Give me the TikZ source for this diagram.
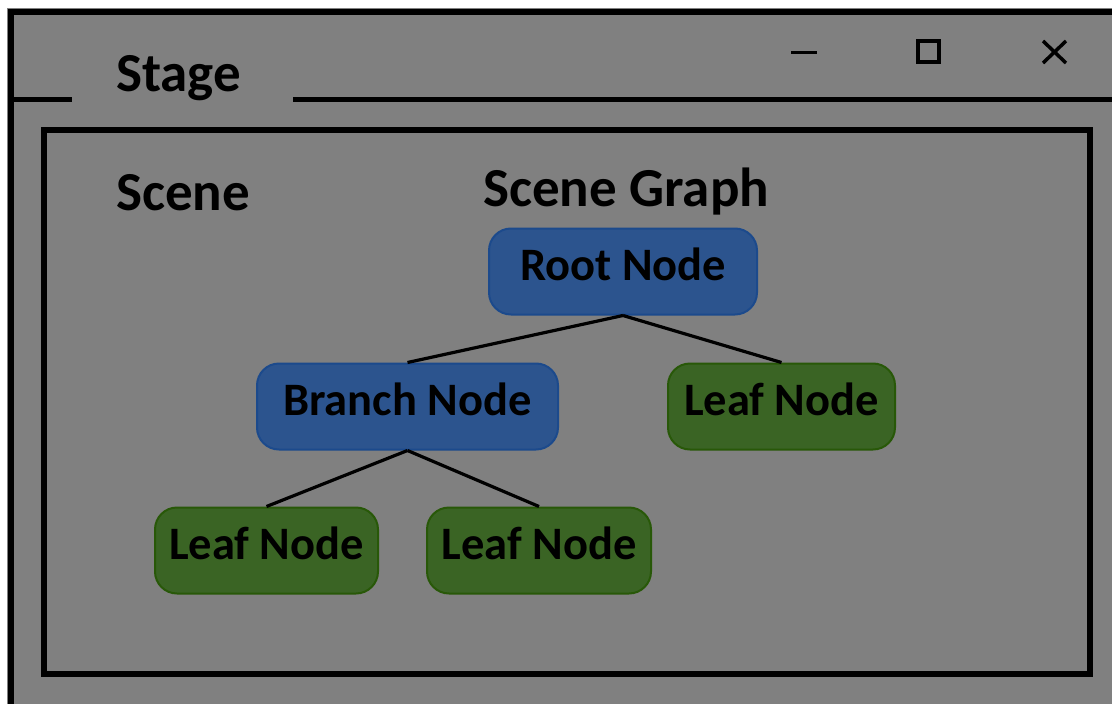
\documentclass[tikz,border=0pt]{standalone}
\usepackage{fontspec}
\setmainfont{Carlito}
\definecolor{bg}{RGB}{128,128,128}
\definecolor{bluefill}{RGB}{44,84,142}
\definecolor{blueline}{RGB}{28,74,140}
\definecolor{greenfill}{RGB}{58,100,36}
\definecolor{greenline}{RGB}{40,88,8}
\tikzset{
  frame/.style={line width=6pt, draw=black},
  heading/.style={anchor=base west, inner sep=0pt, font=\fontsize{55}{62}\selectfont\bfseries},
  gnode/.style={rounded corners=22pt, line width=2pt, inner sep=0pt,
    text height=30pt, text depth=12pt, minimum height=86pt,
    font=\fontsize{46.5}{52}\selectfont\bfseries},
  bluenode/.style={gnode, fill=bluefill, draw=blueline},
  greennode/.style={gnode, fill=greenfill, draw=greenline},
  link/.style={line width=3.2pt, draw=black},
  icon/.style={line width=3.5pt, draw=black}
}
\begin{document}
\begin{tikzpicture}[x=1pt,y=-1pt]
\useasboundingbox (0,0) rectangle (1112,704);
\fill[white] (0,0) rectangle (1112,704);
\fill[bg] (7,8) rectangle (1112,704);
% window frame
\draw[frame] (10.5,704) -- (10.5,11.5) -- (1112,11.5);
\draw[line width=5pt] (10,99) -- (72,99);
\draw[line width=5pt] (293,99) -- (1112,99);
\draw[frame] (44,130) rectangle (1090,674);
% title bar icons
\coordinate (minA) at (791,52);
\coordinate (minB) at (817,52);
\draw[icon, line width=3pt] (minA) -- (minB);
\draw[icon, line width=4pt] (918,41) rectangle (939,62);
\draw[icon] (1043,41) -- (1066,63);
\draw[icon] (1043,63) -- (1066,41);
% headings
\node[heading] (stage) at (116,91) {Stage};
\node[heading] (scene) at (116,210) {Scene};
\node[heading] (sgraph) at (483,206) {Scene Graph};
% scene graph nodes
\node[bluenode, minimum width=268pt] (root) at (623,271.5) {Root Node};
\node[bluenode, minimum width=301pt] (branch) at (407.5,406.5) {Branch Node};
\node[greennode, minimum width=227pt] (leafR) at (781.5,406.5) {Leaf Node};
\node[greennode, minimum width=223pt] (leafA) at (266.5,550.5) {Leaf Node};
\node[greennode, minimum width=224pt] (leafB) at (539,550.5) {Leaf Node};
% connectors
\draw[link] (root.south) -- (branch.north);
\draw[link] (root.south) -- (leafR.north);
\draw[link] (branch.south) -- (leafA.north);
\draw[link] (branch.south) -- (leafB.north);
\end{tikzpicture}
\end{document}
